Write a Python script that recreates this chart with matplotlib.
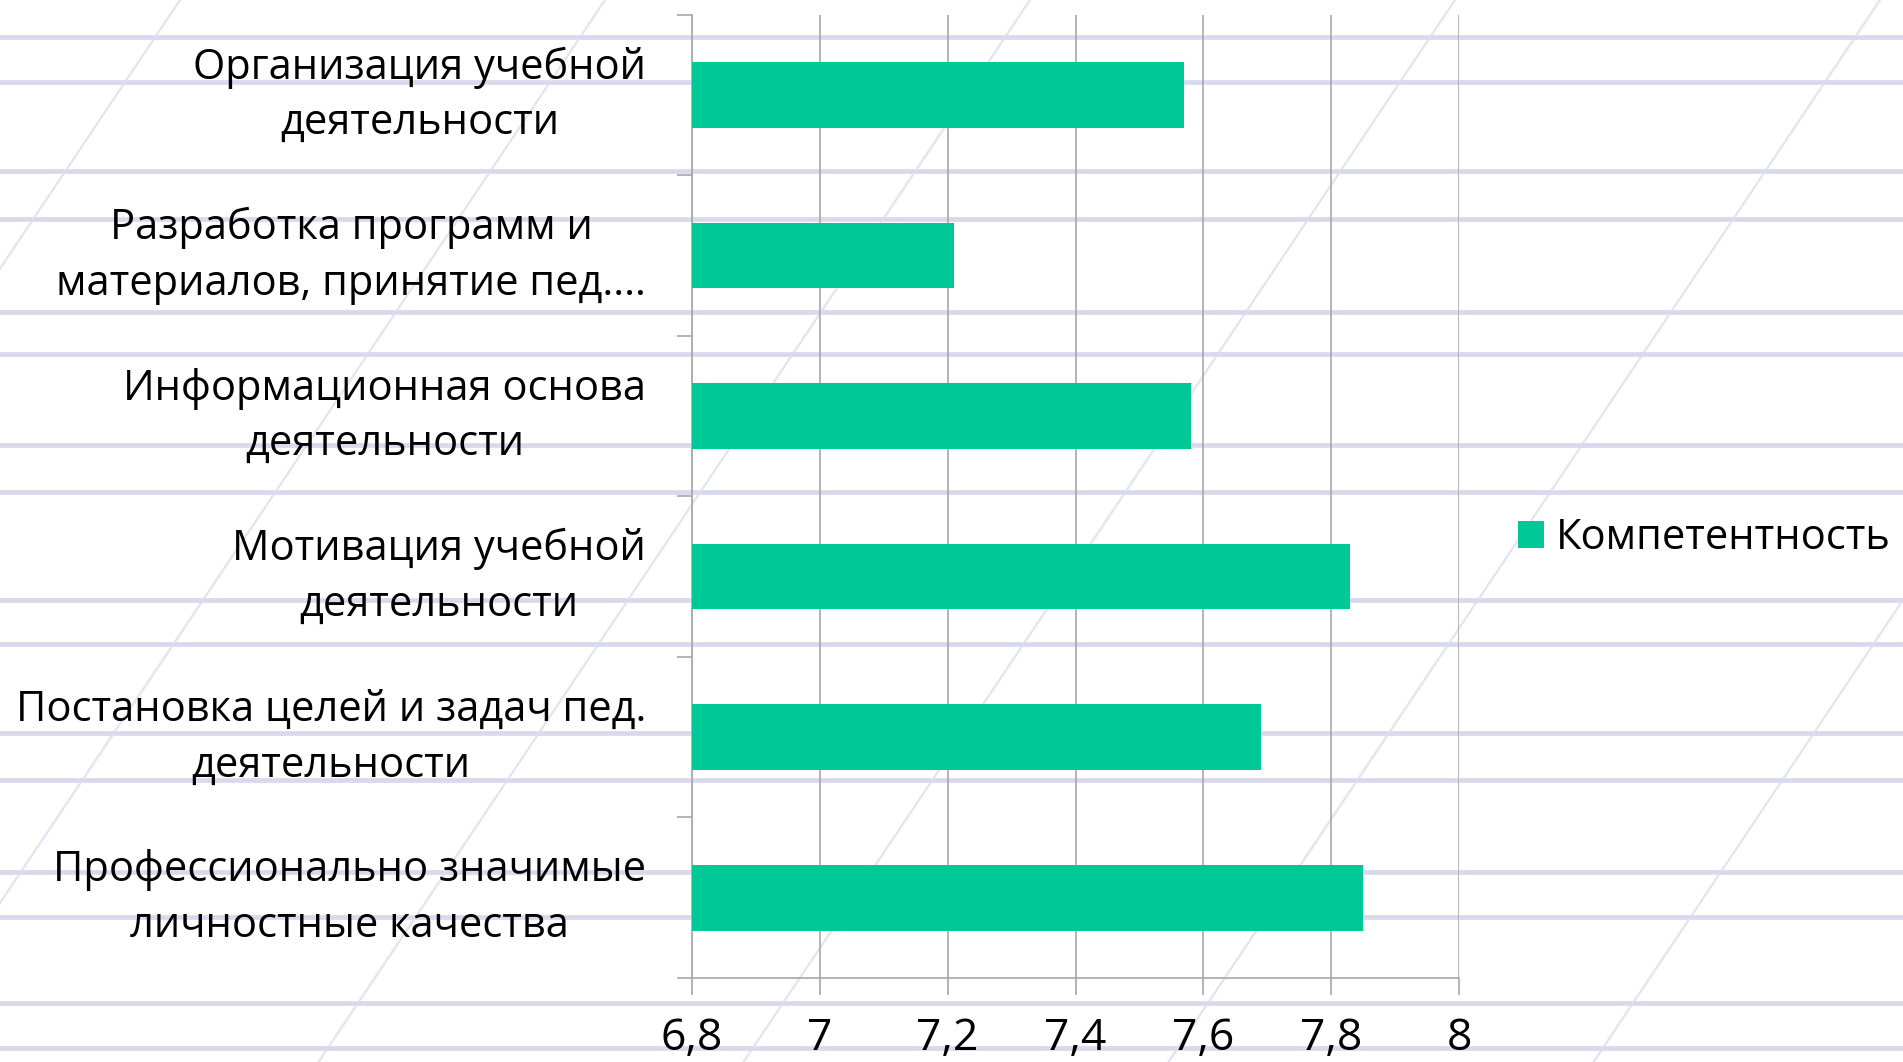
import numpy as np
import matplotlib as mpl
mpl.use('Agg')
import matplotlib.pyplot as plt
from matplotlib.lines import Line2D
from matplotlib.patches import Patch
from matplotlib.ticker import FixedLocator
from matplotlib.transforms import ScaledTranslation

plt.rcParams['font.family'] = ['Open Sans', 'DejaVu Sans']

# data, top to bottom as shown
categories = [
    'Организация учебной\nдеятельности',
    'Разработка программ и\nматериалов, принятие пед....',
    'Информационная основа\nдеятельности',
    'Мотивация учебной\nдеятельности',
    'Постановка целей и задач пед.\nдеятельности',
    'Профессионально значимые\nличностные качества',
]
values = [7.57, 7.21, 7.58, 7.83, 7.69, 7.85]
series_name = 'Компетентность'
x_ticks = [6.8, 7.0, 7.2, 7.4, 7.6, 7.8, 8.0]
x_tick_labels = ['6,8', '7', '7,2', '7,4', '7,6', '7,8', '8']

BAR = '#00c897'
GRID = '#a8a8a8'
FS = 30

W, H = 1903, 1062
fig = plt.figure(figsize=(W / 100, H / 100), dpi=100)
fig.patch.set_facecolor('white')

# lined notebook paper background (decoration)
rule_y = [37, 82, 171, 219, 312, 354, 445, 492, 600, 644, 733, 780, 872, 917, 1003, 1048]
for y in rule_y:
    fig.add_artist(Line2D([0, 1], [1 - y / H, 1 - y / H], transform=fig.transFigure,
                          color='#d9d9ee', lw=3.4, zorder=-10))
for xt in np.arange(180, 2400, 425):
    fig.add_artist(Line2D([xt / W, (xt - 0.67 * H) / W], [1, 0], transform=fig.transFigure,
                          color='#dcdcf0', lw=1.6, alpha=0.8, zorder=-9))

ax = fig.add_axes([692 / W, 1 - 978 / H, (1459 - 692) / W, (978 - 14.6) / H])
ax.patch.set_alpha(0)

ypos = np.arange(len(categories))
ax.barh(ypos, np.array(values) - x_ticks[0], left=x_ticks[0], height=0.41, color=BAR, zorder=3)

ax.set_xlim(x_ticks[0], x_ticks[-1])
ax.set_ylim(len(categories) - 0.5, -0.5)

ax.set_xticks(x_ticks)
ax.set_xticklabels(x_tick_labels, fontsize=32)
ax.tick_params(axis='x', length=12, width=1.2, color=GRID, pad=16)
ax.grid(True, axis='x', color=GRID, lw=1.2, zorder=1)

# category labels: right-aligned block, centred lines
ax.set_yticks([])
label_tr = ax.get_yaxis_transform() + ScaledTranslation(-0.46, -0.005, fig.dpi_scale_trans)
for i, lab in enumerate(categories):
    ax.text(0, ypos[i], lab, transform=label_tr, fontsize=FS, ha='right', va='center',
            multialignment='center', linespacing=1.42)
ax.yaxis.set_minor_locator(FixedLocator(np.arange(len(categories) + 1) - 0.5))
ax.tick_params(axis='y', which='minor', length=11, width=1.2, color=GRID)

for s in ['top', 'right']:
    ax.spines[s].set_visible(False)
for s in ['left', 'bottom']:
    ax.spines[s].set_color(GRID)
    ax.spines[s].set_linewidth(1.2)

fig.legend(handles=[Patch(facecolor=BAR, label=series_name)], loc='center left',
           bbox_to_anchor=(1518 / W, 1 - 538 / H), frameon=False, fontsize=FS,
           handlelength=0.62, handleheight=0.62, handletextpad=0.3,
           borderpad=0, borderaxespad=0)

fig.savefig('out.png', dpi=100)
